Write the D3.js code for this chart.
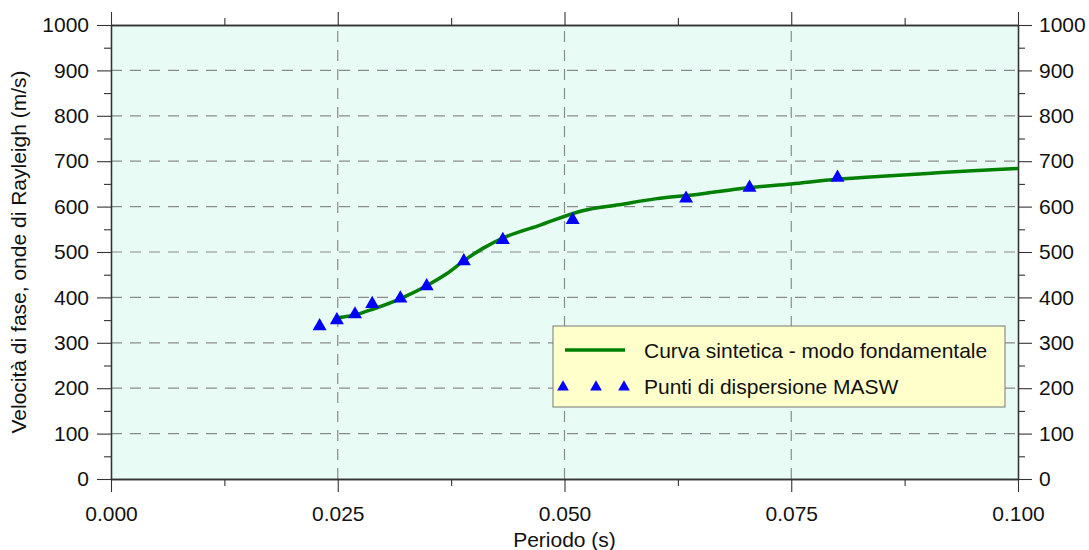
<!DOCTYPE html>
<html>
<head>
<meta charset="utf-8">
<title>Curva di dispersione</title>
<script src="https://cdn.jsdelivr.net/npm/d3@7/dist/d3.min.js"></script>
<style>
  body { margin: 0; background: #fff; }
  text { font-family: "Liberation Sans", Arial, sans-serif; fill: #111; }
</style>
</head>
<body>
<svg id="chart" width="1089" height="550"></svg>
<script>
// curve (sintetica) - periodo (s) / velocita (m/s)
const curvePeriod = [0.0250, 0.0270, 0.0290, 0.0320, 0.0350, 0.0370, 0.0390, 0.0410, 0.0437, 0.0470, 0.0520, 0.0560, 0.0600, 0.0650, 0.0700, 0.0750, 0.0800, 0.0850, 0.0900, 0.0950, 0.1000];
const curveVel    = [355, 362, 375, 398, 428, 452, 482, 508, 535, 557, 591, 604, 617, 628, 641, 650, 660, 667, 673, 679, 684];

// punti MASW
const maswPeriod = [0.0230, 0.0249, 0.0269, 0.0288, 0.0319, 0.0348, 0.0389, 0.0432, 0.0509, 0.0634, 0.0704, 0.0801];
const maswVel    = [339, 352, 365, 388, 400, 427, 482, 529, 573, 620, 644, 666];

const xTicks = [0, 0.025, 0.05, 0.075, 0.1];
const yTicks = [0, 100, 200, 300, 400, 500, 600, 700, 800, 900, 1000];

const margin = {left: 111, right: 71, top: 25, bottom: 71};
const W = 1089, H = 550;
const FS = '21px';
const svg = d3.select('#chart');

const x = d3.scaleLinear().domain([0, 0.1]).range([margin.left, W - margin.right]);
const y = d3.scaleLinear().domain([0, 1000]).range([H - margin.bottom, margin.top]);

// plot background
svg.append('rect')
    .attr('x', x(0)).attr('y', y(1000))
    .attr('width', x(0.1) - x(0)).attr('height', y(0) - y(1000))
    .attr('fill', '#e8fcf5');

// grid
svg.append('g').selectAll('line').data(yTicks.slice(1, -1)).join('line')
    .attr('x1', x(0)).attr('x2', x(0.1))
    .attr('y1', d => y(d)).attr('y2', d => y(d))
    .attr('stroke', '#8a8a8a').attr('stroke-width', 1.2).attr('stroke-dasharray', '11,8');
svg.append('g').selectAll('line').data(xTicks.slice(1, -1)).join('line')
    .attr('x1', d => x(d)).attr('x2', d => x(d))
    .attr('y1', y(0)).attr('y2', y(1000))
    .attr('stroke', '#8a8a8a').attr('stroke-width', 1.2).attr('stroke-dasharray', '11,8');

// axes
const fmtX = d3.format('.3f');
const fmtY = d3.format('d');
const yMinor = d3.range(50, 1000, 100);
const xMinor = d3.range(0.0125, 0.1, 0.025);

function styleAxis(g) {
    g.selectAll('.domain').attr('stroke', '#333').attr('stroke-width', 1.3);
    g.selectAll('.tick line').attr('stroke', '#333').attr('stroke-width', 1.1);
    g.selectAll('text').style('font-size', FS).attr('fill', '#111');
}

svg.append('g').attr('transform', `translate(${x(0)},0)`)
    .call(d3.axisLeft(y).tickValues(yTicks).tickFormat(fmtY).tickSize(14).tickPadding(8).tickSizeOuter(0))
    .call(styleAxis);
svg.append('g').attr('transform', `translate(${x(0)},0)`)
    .call(d3.axisLeft(y).tickValues(yMinor).tickSize(7).tickFormat('').tickSizeOuter(0))
    .call(styleAxis);
svg.append('g').attr('transform', `translate(${x(0.1)},0)`)
    .call(d3.axisRight(y).tickValues(yTicks).tickFormat(fmtY).tickSize(14).tickPadding(7).tickSizeOuter(0))
    .call(styleAxis);
svg.append('g').attr('transform', `translate(${x(0.1)},0)`)
    .call(d3.axisRight(y).tickValues(yMinor).tickSize(7).tickFormat('').tickSizeOuter(0))
    .call(styleAxis);
svg.append('g').attr('transform', `translate(0,${y(0)})`)
    .call(d3.axisBottom(x).tickValues(xTicks).tickFormat(fmtX).tickSize(13).tickPadding(14).tickSizeOuter(0))
    .call(styleAxis);
svg.append('g').attr('transform', `translate(0,${y(0)})`)
    .call(d3.axisBottom(x).tickValues(xMinor).tickSize(7).tickFormat('').tickSizeOuter(0))
    .call(styleAxis);
svg.append('g').attr('transform', `translate(0,${y(1000)})`)
    .call(d3.axisTop(x).tickValues(xTicks).tickSize(13).tickFormat('').tickSizeOuter(0))
    .call(styleAxis);
svg.append('g').attr('transform', `translate(0,${y(1000)})`)
    .call(d3.axisTop(x).tickValues(xMinor).tickSize(7).tickFormat('').tickSizeOuter(0))
    .call(styleAxis);

// axis titles
svg.append('text')
    .attr('x', (x(0) + x(0.1)) / 2).attr('y', 547)
    .attr('text-anchor', 'middle').style('font-size', FS)
    .text('Periodo (s)');
svg.append('text')
    .attr('transform', `translate(26,${(y(0) + y(1000)) / 2}) rotate(-90)`)
    .attr('text-anchor', 'middle').style('font-size', FS)
    .text('Velocità di fase, onde di Rayleigh (m/s)');

// curve
const curveData = curvePeriod.map((p, i) => [p, curveVel[i]]);
svg.append('path')
    .datum(curveData)
    .attr('fill', 'none')
    .attr('stroke', '#008000')
    .attr('stroke-width', 3.5)
    .attr('d', d3.line().x(d => x(d[0])).y(d => y(d[1])).curve(d3.curveMonotoneX));

// triangles
const tri = d3.symbol().type(d3.symbolTriangle).size(85);
svg.append('g').selectAll('path')
    .data(maswPeriod.map((p, i) => [p, maswVel[i]]))
    .join('path')
    .attr('d', tri)
    .attr('transform', d => `translate(${x(d[0])},${y(d[1]) + 1})`)
    .attr('fill', '#0000ff');

// legend
const lg = svg.append('g').attr('transform', 'translate(553,326)');
lg.append('rect').attr('width', 452).attr('height', 81)
    .attr('fill', '#ffffcc').attr('stroke', '#777').attr('stroke-width', 1);
lg.append('line').attr('x1', 12).attr('x2', 72).attr('y1', 24).attr('y2', 24)
    .attr('stroke', '#008000').attr('stroke-width', 3.5);
lg.append('text').attr('x', 91).attr('y', 32).style('font-size', FS)
    .text('Curva sintetica - modo fondamentale');
lg.selectAll('path.lt').data([10, 43, 71]).join('path')
    .attr('class', 'lt')
    .attr('d', d3.symbol().type(d3.symbolTriangle).size(60))
    .attr('transform', d => `translate(${d},${61})`)
    .attr('fill', '#0000ff');
lg.append('text').attr('x', 91).attr('y', 68).style('font-size', FS)
    .text('Punti di dispersione MASW');
</script>
</body>
</html>
